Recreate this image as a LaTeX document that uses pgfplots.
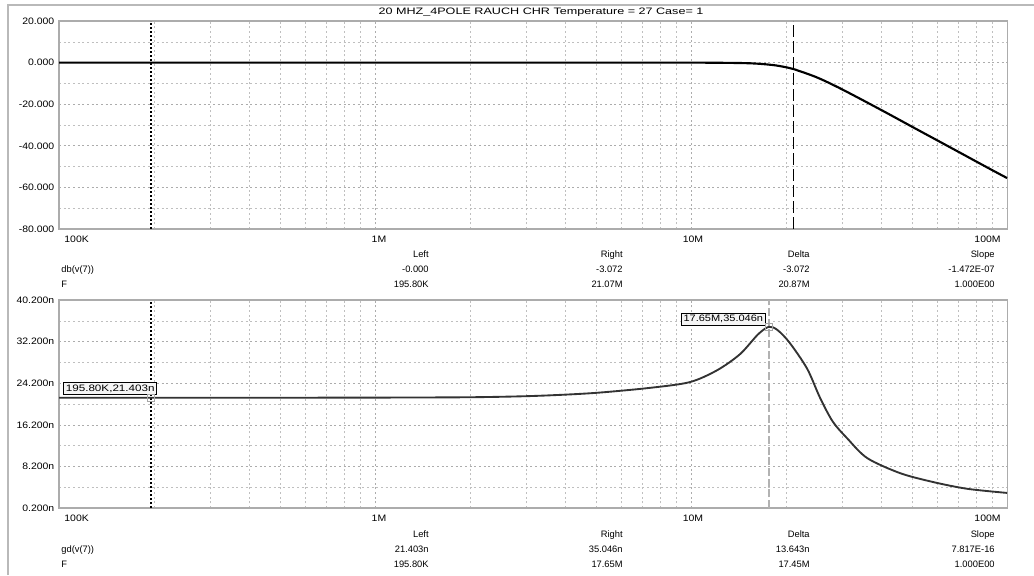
\documentclass[border=0pt]{standalone}
\usepackage{pgfplots}
\pgfplotsset{compat=1.18}
\usepackage{fontspec}
\setmainfont{Liberation Sans}
\newcommand{\sm}{\fontsize{7}{8}\selectfont}
\newcommand{\wdx}[1]{\scalebox{1.12}[1]{#1}}
\pgfplotsset{
  mcpanel/.style={
    scale only axis, width=711pt, height=156pt,
    xmin=1e5, xmax=1e8,
    xtick={1e5,1e6,1e7,1e8}, xticklabels={},
    minor xtick={2e5,3e5,4e5,5e5,6e5,7e5,8e5,9e5,2e6,3e6,4e6,5e6,6e6,7e6,8e6,9e6,2e7,3e7,4e7,5e7,6e7,7e7,8e7,9e7},
    grid=both,
    major grid style={gray!65, line width=0.45pt, dash pattern=on 1.5pt off 2pt},
    minor grid style={gray!50, line width=0.4pt, dash pattern=on 1.5pt off 2pt},
    major tick length=0pt, minor tick length=0pt,
    axis line style={gray!65, line width=0.8pt},
    yticklabel style={font=\sm, xshift=-1pt},
    clip=false,
  }
}
\begin{document}
\sm
\begin{tikzpicture}[x=0.75pt,y=0.75pt]
\path[use as bounding box] (0,0) rectangle (1034,575);
\draw[gray!55, line width=1.2pt] (8,0) -- (8,570) -- (1034,570);
\node[font=\fontsize{7}{8}\selectfont] at (541,563) {\scalebox{1.35}[1]{20 MHZ\_4POLE RAUCH CHR Temperature = 27 Case= 1}};

% ---------- top panel ----------
\begin{axis}[xmode=log, mcpanel, at={(44.25pt,259.5pt)}, anchor=south west,
  ymin=-80, ymax=20, ytick={-80,-60,-40,-20,0,20},
  yticklabels={\wdx{-80.000},\wdx{-60.000},\wdx{-40.000},\wdx{-20.000},\wdx{0.000},\wdx{20.000}},
  minor ytick={-70,-50,-30,-10,10}]
\addplot[black, line width=1.3pt, dash pattern=on 1.5pt off 1.5pt] coordinates {(195800,-80) (195800,20)};
\addplot[black, line width=0.9pt, dash pattern=on 9pt off 3pt] coordinates {(21070000,-80) (21070000,20)};
\addplot[black, line width=1.6pt, smooth] coordinates {
(1e5,0) (1e6,0) (5e6,0) (1e7,-0.012) (1.5e7,-0.285) (1.8e7,-1.11) (2e7,-2.25) (2.107e7,-3.072)
(2.5e7,-7.1) (3e7,-12.8) (4e7,-22.8) (5e7,-30.8) (6e7,-37.3) (7e7,-42.8) (8e7,-47.6) (9e7,-51.8) (1e8,-55.5)};
\end{axis}

% ---------- bottom panel ----------
\begin{axis}[xmode=log, mcpanel, at={(44.25pt,50.25pt)}, anchor=south west,
  ymin=0.2, ymax=40.2, ytick={0.2,8.2,16.2,24.2,32.2,40.2},
  yticklabels={\wdx{0.200n},\wdx{8.200n},\wdx{16.200n},\wdx{24.200n},\wdx{32.200n},\wdx{40.200n}},
  minor ytick={4.2,12.2,20.2,28.2,36.2}]
\addplot[black, line width=1.3pt, dash pattern=on 1.5pt off 1.5pt] coordinates {(195800,0.2) (195800,40.2)};
\addplot[gray!60, line width=1.4pt, dash pattern=on 6pt off 2pt] coordinates {(17650000,0.2) (17650000,40.2)};
\addplot[black!80, line width=1.4pt, smooth] coordinates {
(1e5,21.40) (1.958e5,21.403) (5e5,21.41) (1e6,21.43) (2e6,21.5) (3e6,21.7) (4e6,22.0) (5.15e6,22.4)
(7.4e6,23.3) (9.9e6,24.4) (12.1e6,26.7) (14.3e6,29.8) (16.3e6,33.6) (17.65e6,35.046) (18.8e6,34.4)
(20.5e6,32.0) (23.3e6,27.0) (25.6e6,21.4) (28.1e6,16.8) (31.2e6,13.6) (36.1e6,9.8) (45.9e6,6.9)
(58.3e6,5.2) (74.7e6,3.9) (1e8,3.1)};
\addplot[gray!70, only marks, mark=square, mark size=2.5pt, mark options={line width=0.7pt}] coordinates {(195800,21.403) (17650000,35.046)};
\node[draw=black, fill=gray!8, inner sep=1.6pt, line width=0.6pt, anchor=south east, font=\fontsize{7}{8}\selectfont,
  xshift=4.5pt, yshift=2.2pt] at (axis cs:195800,21.403) {\scalebox{1.25}[1]{195.80K,21.403n}};
\node[draw=black, fill=gray!8, inner sep=1.6pt, line width=0.6pt, anchor=south east, font=\fontsize{7}{8}\selectfont,
  xshift=-2.5pt, yshift=1pt] at (axis cs:17650000,35.046) {\scalebox{1.18}[1]{17.65M,35.046n}};
\end{axis}

% ---------- x tick labels ----------
\node[anchor=north west] at (61,342) {\wdx{100K}};
\node[anchor=north] at (379,342) {\wdx{1M}};
\node[anchor=north] at (693,342) {\wdx{10M}};
\node[anchor=north east] at (1004,342) {\wdx{100M}};
\node[anchor=north west] at (61,63) {\wdx{100K}};
\node[anchor=north] at (379,63) {\wdx{1M}};
\node[anchor=north] at (693,63) {\wdx{10M}};
\node[anchor=north east] at (1004,63) {\wdx{100M}};

% ---------- top readouts ----------
\node[anchor=base east] at (432,317) {Left};
\node[anchor=base east] at (626,317) {Right};
\node[anchor=base east] at (813,317) {Delta};
\node[anchor=base east] at (998,317) {Slope};
\node[anchor=base west] at (58,302) {db(v(7))};
\node[anchor=base west] at (58,287) {F};
\node[anchor=base east] at (432,302) {-0.000};
\node[anchor=base east] at (432,287) {195.80K};
\node[anchor=base east] at (626,302) {-3.072};
\node[anchor=base east] at (626,287) {21.07M};
\node[anchor=base east] at (813,302) {-3.072};
\node[anchor=base east] at (813,287) {20.87M};
\node[anchor=base east] at (998,302) {-1.472E-07};
\node[anchor=base east] at (998,287) {1.000E00};

% ---------- bottom readouts ----------
\node[anchor=base east] at (432,38) {Left};
\node[anchor=base east] at (626,38) {Right};
\node[anchor=base east] at (813,38) {Delta};
\node[anchor=base east] at (998,38) {Slope};
\node[anchor=base west] at (58,23) {gd(v(7))};
\node[anchor=base west] at (58,8) {F};
\node[anchor=base east] at (432,23) {21.403n};
\node[anchor=base east] at (432,8) {195.80K};
\node[anchor=base east] at (626,23) {35.046n};
\node[anchor=base east] at (626,8) {17.65M};
\node[anchor=base east] at (813,23) {13.643n};
\node[anchor=base east] at (813,8) {17.45M};
\node[anchor=base east] at (998,23) {7.817E-16};
\node[anchor=base east] at (998,8) {1.000E00};
\end{tikzpicture}
\end{document}
